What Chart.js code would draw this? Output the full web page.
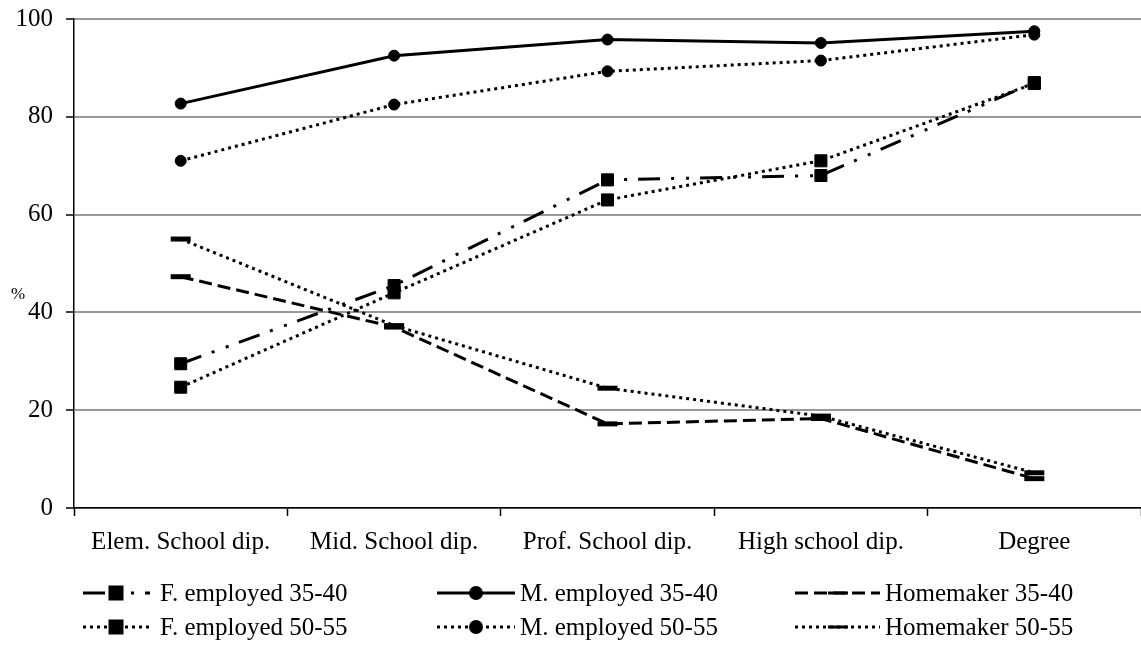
<!DOCTYPE html>
<html>
<head>
<meta charset="utf-8">
<script src="https://cdn.jsdelivr.net/npm/chart.js@4.4.1/dist/chart.umd.min.js"></script>
<style>
  html, body { margin: 0; padding: 0; background: #fff; }
  #wrap { width: 1141px; height: 646px; }
</style>
</head>
<body>
<div id="wrap"><canvas id="chart" width="1141" height="646"></canvas></div>
<script>
// categories and series (%)
const categories = ['Elem. School dip.', 'Mid. School dip.', 'Prof. School dip.', 'High school dip.', 'Degree'];
const fEmployed3540 = [29.5, 45.5, 67.1, 68.0, 87.0];
const mEmployed3540 = [82.7, 92.5, 95.8, 95.1, 97.5];
const homemaker3540 = [47.3, 37.0, 17.2, 18.3, 6.0];
const fEmployed5055 = [24.7, 44.0, 63.0, 71.0, 86.8];
const mEmployed5055 = [71.0, 82.5, 89.3, 91.5, 96.8];
const homemaker5055 = [55.0, 37.3, 24.5, 18.8, 7.2];
const yTicks = [0, 20, 40, 60, 80, 100];

const FONT = '"Liberation Serif", "Times New Roman", serif';

function ds(label, data, dash, style, radius, pbw) {
    return {
        label: label,
        data: data,
        borderColor: '#000',
        backgroundColor: '#000',
        borderWidth: 3,
        borderDash: dash,
        pointStyle: style,
        pointRadius: radius,
        pointBorderWidth: pbw,
        pointBackgroundColor: '#000',
        pointBorderColor: '#000',
        tension: 0,
        fill: false
    };
}

// order = legend order (row by row)
const datasets = [
    ds('F. employed 35-40', fEmployed3540, [22, 11, 3, 12, 3, 11], 'rect', 8.5, 1),
    ds('M. employed 35-40', mEmployed3540, [], 'circle', 5.5, 1),
    ds('Homemaker 35-40', homemaker3540, [13, 6], 'line', 10, 5),
    ds('F. employed 50-55', fEmployed5055, [3, 4], 'rect', 8.5, 1),
    ds('M. employed 50-55', mEmployed5055, [3, 4], 'circle', 5.5, 1),
    ds('Homemaker 50-55', homemaker5055, [3, 4], 'line', 10, 5)
];

// legend drawn by hand: line sample with marker in the middle
const legendPlugin = {
    id: 'bottomLegend',
    afterDraw(chart) {
        const ctx = chart.ctx;
        const cols = [[83, 150, 116, 160], [437, 515, 476, 520], [795, 880, 838, 885]];
        const rows = [593, 627];
        chart.data.datasets.forEach((d, i) => {
            const c = cols[i % 3];
            const y = rows[Math.floor(i / 3)];
            ctx.save();
            ctx.strokeStyle = '#000';
            ctx.lineWidth = 3;
            ctx.setLineDash(d.borderDash);
            ctx.beginPath();
            ctx.moveTo(c[0], y);
            ctx.lineTo(c[1], y);
            ctx.stroke();
            ctx.setLineDash([]);
            ctx.fillStyle = '#000';
            Chart.helpers.drawPoint(ctx, {
                pointStyle: d.pointStyle,
                radius: d.pointRadius,
                borderWidth: d.pointBorderWidth,
                rotation: 0
            }, c[2], y);
            ctx.fillStyle = '#000';
            ctx.font = '25px ' + FONT;
            ctx.textBaseline = 'middle';
            ctx.textAlign = 'left';
            ctx.fillText(d.label, c[3], y + 1);
            ctx.restore();
        });
        // y axis unit
        ctx.save();
        ctx.fillStyle = '#000';
        ctx.font = '17px ' + FONT;
        ctx.textAlign = 'center';
        ctx.textBaseline = 'middle';
        ctx.fillText('%', 18, 295);
        ctx.restore();
    }
};

new Chart(document.getElementById('chart'), {
    type: 'line',
    data: { labels: categories, datasets: datasets },
    options: {
        responsive: false,
        animation: false,
        layout: { autoPadding: false, padding: { top: 19, right: 0, left: 0, bottom: 0 } },
        plugins: {
            legend: { display: false },
            tooltip: { enabled: false }
        },
        scales: {
            x: {
                offset: true,
                grid: {
                    offset: true,
                    drawOnChartArea: false,
                    drawTicks: true,
                    tickLength: 8,
                    tickColor: '#000',
                    tickWidth: 1.5
                },
                border: { display: true, color: '#000', width: 1.5 },
                ticks: {
                    color: '#000',
                    font: { family: FONT, size: 25 },
                    padding: 11,
                    maxRotation: 0,
                    autoSkip: false
                },
                afterFit(s) {
                    s.height = 138;
                    s.paddingLeft = 0;
                    s.paddingRight = 0;
                }
            },
            y: {
                min: 0,
                max: 100,
                afterBuildTicks(s) { s.ticks = yTicks.map(v => ({ value: v })); },
                grid: {
                    color: '#999',
                    lineWidth: 2,
                    tickColor: '#000',
                    tickLength: 8,
                    tickWidth: 1.5
                },
                border: { display: true, color: '#000', width: 1.5 },
                ticks: {
                    color: '#000',
                    font: { family: FONT, size: 25 },
                    padding: 13
                },
                afterFit(s) {
                    s.width = 74;
                    s.paddingTop = 0;
                    s.paddingBottom = 0;
                }
            }
        }
    },
    plugins: [legendPlugin]
});
</script>
</body>
</html>
